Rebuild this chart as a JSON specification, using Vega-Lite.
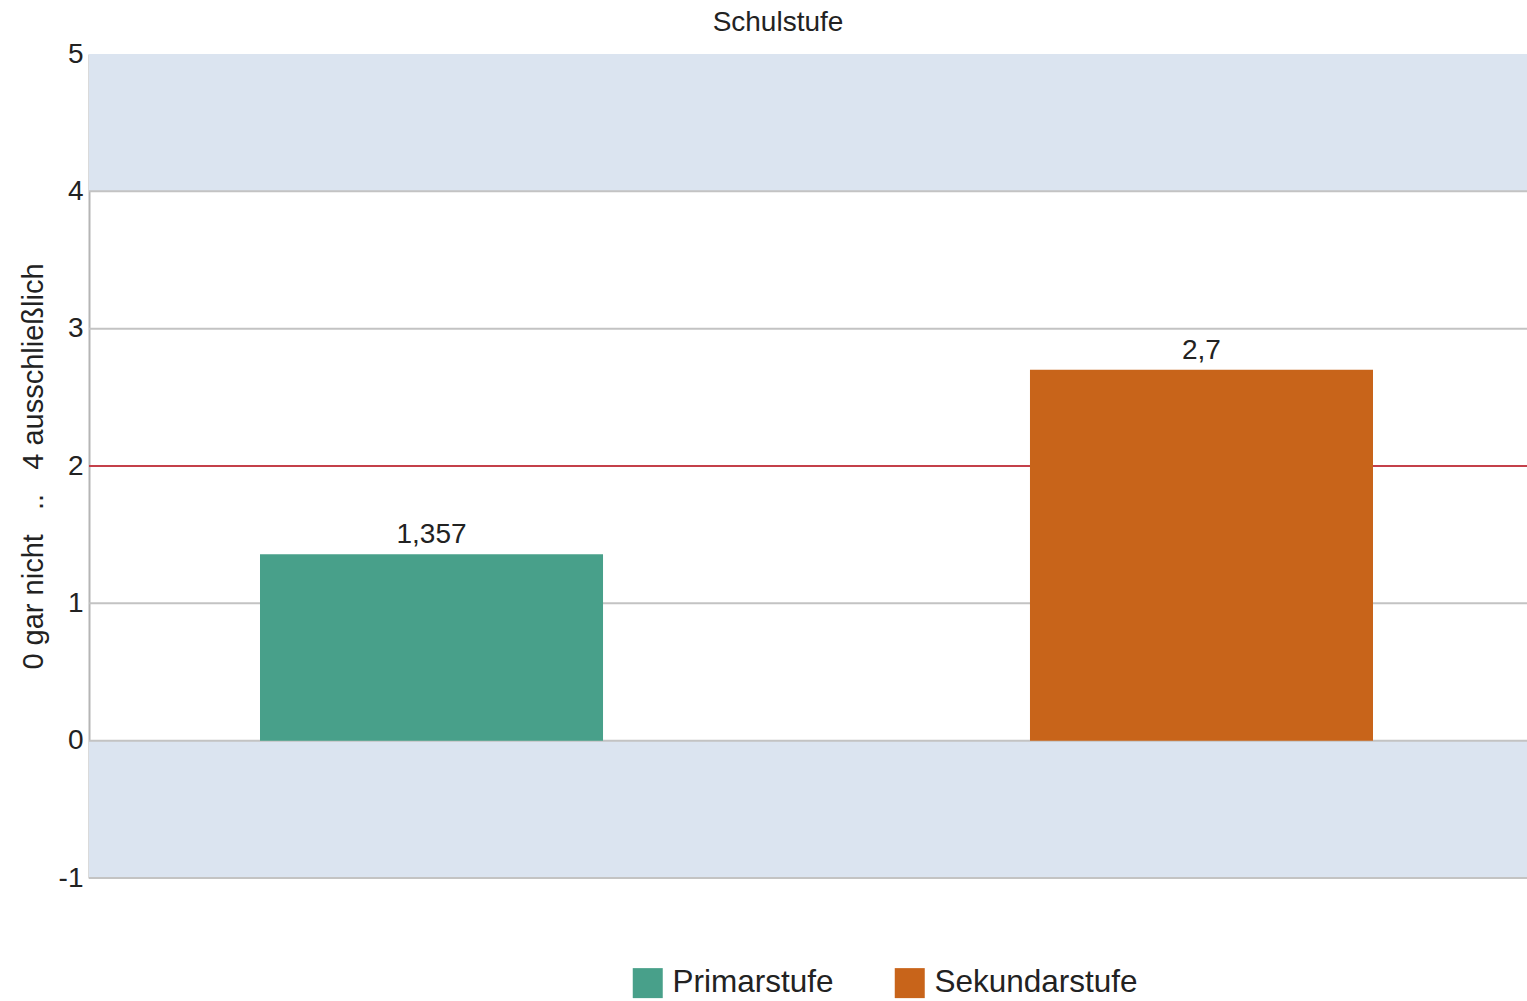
{
  "$schema": "https://vega.github.io/schema/vega-lite/v6.json",
  "width": 1438,
  "height": 824,
  "autosize": {"type": "none"},
  "padding": {"left": 89, "top": 54, "right": 0, "bottom": 123},
  "background": "white",
  "title": {"text": "Schulstufe", "fontSize": 28, "font": "Liberation Sans", "fontWeight": "normal", "color": "#222222", "anchor": "middle", "dx": -30, "offset": 3},
  "datasets": {
    "werte": [
      {"stufe": "Primarstufe", "wert": 1.357},
      {"stufe": "Sekundarstufe", "wert": 2.7}
    ],
    "baender": [
      {"von": 4, "bis": 5},
      {"von": -1, "bis": 0}
    ],
    "raster": [
      {"v": -1}, {"v": 0}, {"v": 1}, {"v": 2}, {"v": 3}, {"v": 4}
    ],
    "referenz": [{"v": 2}]
  },
  "layer": [
    {
      "data": {"name": "baender"},
      "mark": {"type": "rect", "color": "#dbe4f0"},
      "encoding": {
        "y": {"field": "von", "type": "quantitative", "scale": {"domain": [-1, 5], "nice": false, "zero": false},
          "axis": {"values": [-1, 0, 1, 2, 3, 4, 5], "title": "0 gar nicht \u00a0\u00a0.. \u00a0\u00a04 ausschließlich", "titleFontSize": 29, "titleFont": "Liberation Sans", "titleFontWeight": "normal", "titleColor": "#222222", "titlePadding": 10, "labelFontSize": 28, "labelFont": "Liberation Sans", "labelColor": "#222222", "labelPadding": 6, "ticks": false, "grid": false, "domainColor": "#b5b5b5", "domainWidth": 2, "format": "~g"}},
        "y2": {"field": "bis"}
      }
    },
    {
      "data": {"name": "raster"},
      "mark": {"type": "rule", "color": "#c3c3c3", "strokeWidth": 2},
      "encoding": {"y": {"field": "v", "type": "quantitative"}}
    },
    {
      "data": {"name": "referenz"},
      "mark": {"type": "rule", "color": "#c4404a", "strokeWidth": 2},
      "encoding": {"y": {"field": "v", "type": "quantitative"}}
    },
    {
      "data": {"name": "werte"},
      "mark": {"type": "bar"},
      "encoding": {
        "x": {"field": "stufe", "type": "nominal", "axis": null, "scale": {"range": [17, 1438], "paddingInner": 0.5545, "paddingOuter": 0.2}},
        "y": {"field": "wert", "type": "quantitative"},
        "y2": {"datum": 0},
        "color": {"field": "stufe", "type": "nominal",
          "scale": {"domain": ["Primarstufe", "Sekundarstufe"], "range": ["#48a08a", "#c8641a"]},
          "legend": {"title": null, "orient": "none", "legendX": 543, "legendY": 913, "direction": "horizontal", "symbolType": "square", "symbolSize": 900, "symbolStrokeWidth": 0, "symbolOpacity": 1, "labelFontSize": 31.5, "labelFont": "Liberation Sans", "labelColor": "#222222", "labelOffset": 9, "labelLimit": 0, "columnPadding": 60}}
      }
    },
    {
      "data": {"name": "werte"},
      "mark": {"type": "text", "baseline": "alphabetic", "dy": -11, "fontSize": 28, "font": "Liberation Sans", "color": "#222222"},
      "encoding": {
        "x": {"field": "stufe", "type": "nominal"},
        "y": {"field": "wert", "type": "quantitative"},
        "text": {"field": "wert", "type": "quantitative", "format": "~g"}
      }
    }
  ],
  "config": {
    "view": {"stroke": null},
    "locale": {"number": {"decimal": ",", "thousands": ".", "grouping": [3], "currency": ["", " €"], "minus": "-"}}
  }
}
